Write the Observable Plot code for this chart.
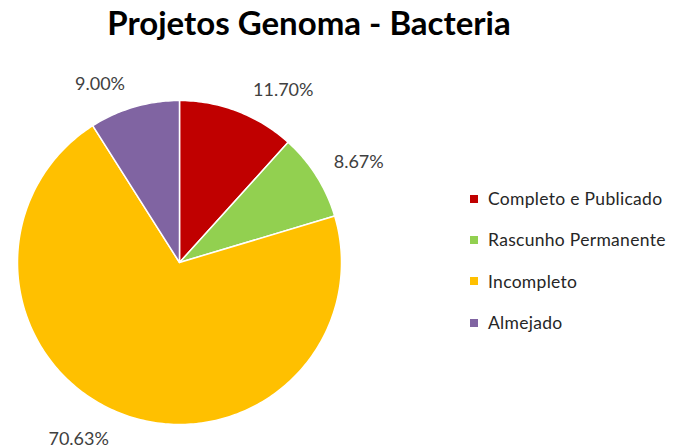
<!DOCTYPE html>
<html>
<head>
<meta charset="utf-8">
<script src="https://cdn.jsdelivr.net/npm/d3@7"></script>
<script src="https://cdn.jsdelivr.net/npm/@observablehq/plot@0.6"></script>
<style>
  body { margin: 0; background: #fff; }
  #wrap { position: relative; width: 697px; height: 448px; overflow: hidden; font-family: Lato, "Open Sans", sans-serif; }
  #chart { position: absolute; left: 0; top: 0; }
  #title { position: absolute; left: 0; top: 2px; width: 618px; text-align: center; font-weight: bold; font-size: 33px; color: #000; }
  #legend { position: absolute; left: 470px; top: 178px; }
  .row { height: 41.3px; display: flex; align-items: center; font-size: 17.5px; color: #262626; white-space: nowrap; letter-spacing: 0.3px; }
  .sw { width: 8px; height: 8px; margin-right: 10px; flex: none; }
</style>
</head>
<body>
<div id="wrap">
  <div id="chart"></div>
  <div id="title">Projetos Genoma - Bacteria</div>
  <div id="legend"></div>
</div>
<script>
const categories = ["Completo e Publicado", "Rascunho Permanente", "Incompleto", "Almejado"];
const values = [11.70, 8.67, 70.63, 9.00];
const labels = ["11.70%", "8.67%", "70.63%", "9.00%"];
const colors = ["#C00000", "#92D050", "#FFC000", "#8064A2"];

const total = d3.sum(values);
const pts = [];
const mids = [];
let cum = 0;
categories.forEach((cat, i) => {
  const a0 = 2 * Math.PI * cum / total;
  cum += values[i];
  const a1 = 2 * Math.PI * cum / total;
  pts.push({cat, x: 0, y: 0});
  const n = Math.max(2, Math.ceil((a1 - a0) / (Math.PI / 180)));
  for (let k = 0; k <= n; k++) {
    const a = a0 + (a1 - a0) * k / n;
    pts.push({cat, x: Math.sin(a), y: Math.cos(a)});
  }
  pts.push({cat, x: 0, y: 0});
  const am = (a0 + a1) / 2;
  mids.push({cat, label: labels[i], x: 1.25 * Math.sin(am), y: 1.25 * Math.cos(am)});
});

const offsets = [[31, 17], [8, 8], [-30, -13], [-23, 16]];

const marks = [
  Plot.line(pts, {x: "x", y: "y", z: "cat", fill: "cat", stroke: "#ffffff", strokeWidth: 1.5, curve: "linear", strokeLinejoin: "round"})
];
mids.forEach((m, i) => {
  marks.push(Plot.text([m], {x: "x", y: "y", text: "label", dx: offsets[i][0], dy: offsets[i][1], fontSize: 18, fill: "#404040", fontFamily: "Lato, 'Open Sans', sans-serif"}));
});

const chart = Plot.plot({
  width: 697,
  height: 448,
  margin: 0,
  x: {domain: [-1, 1], range: [17, 341], axis: null},
  y: {domain: [-1, 1], range: [424, 100], axis: null},
  color: {domain: categories, range: colors},
  style: {background: "transparent", overflow: "visible"},
  marks
});
document.getElementById("chart").appendChild(chart);

const legend = document.getElementById("legend");
categories.forEach((c, i) => {
  const row = document.createElement("div");
  row.className = "row";
  const sw = document.createElement("span");
  sw.className = "sw";
  sw.style.background = colors[i];
  const t = document.createElement("span");
  t.textContent = c;
  row.appendChild(sw);
  row.appendChild(t);
  legend.appendChild(row);
});
</script>
</body>
</html>
